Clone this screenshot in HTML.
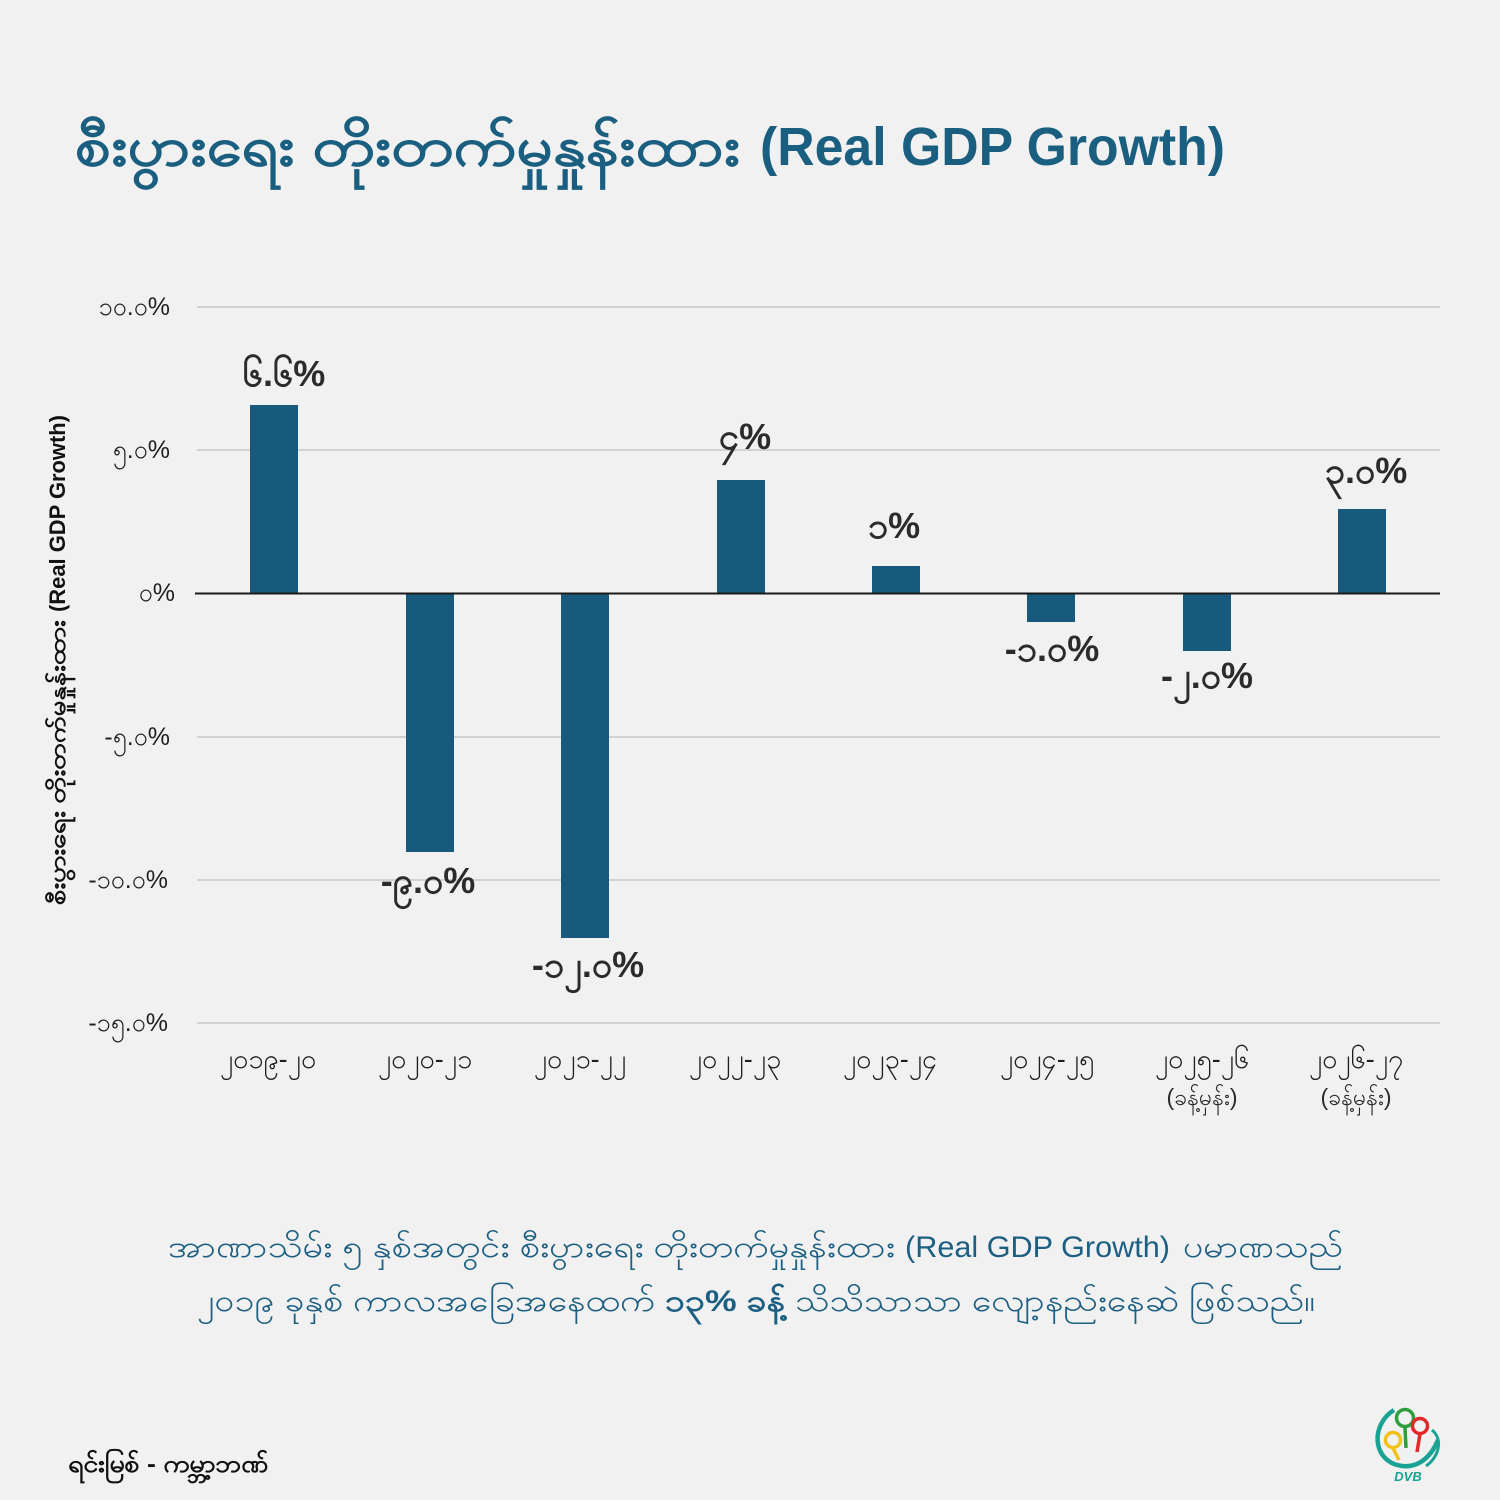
<!DOCTYPE html>
<html>
<head>
<meta charset="utf-8">
<style>
  html, body { margin:0; padding:0; background:#f1f1f1; }
  svg { display:block; }
  text { font-family: "Liberation Sans", "DejaVu Sans", sans-serif; }
</style>
</head>
<body>
<svg width="1500" height="1500" viewBox="0 0 1500 1500" xmlns="http://www.w3.org/2000/svg">
  <rect x="0" y="0" width="1500" height="1500" fill="#f1f1f1"/>

  <!-- Title -->
  <text x="75" y="165" font-size="54" font-weight="bold" fill="#1a5e80" textLength="665" lengthAdjust="spacingAndGlyphs">စီးပွားရေး တိုးတက်မှုနှုန်းထား</text>
  <text x="760" y="165" font-size="54" font-weight="bold" fill="#1a5e80" textLength="465" lengthAdjust="spacingAndGlyphs">(Real GDP Growth)</text>

  <!-- Gridlines -->
  <g stroke="#d2d2d2" stroke-width="2">
    <line x1="197" y1="307" x2="1440" y2="307"/>
    <line x1="197" y1="450" x2="1440" y2="450"/>
    <line x1="197" y1="737" x2="1440" y2="737"/>
    <line x1="197" y1="880" x2="1440" y2="880"/>
    <line x1="197" y1="1023" x2="1440" y2="1023"/>
  </g>

  <!-- Y tick labels -->
  <g font-size="25" fill="#1f1f1f" text-anchor="end">
    <text x="170" y="315">၁၀.၀%</text>
    <text x="170" y="458">၅.၀%</text>
    <text x="175" y="601">၀%</text>
    <text x="170" y="745">-၅.၀%</text>
    <text x="168" y="888">-၁၀.၀%</text>
    <text x="168" y="1031">-၁၅.၀%</text>
  </g>

  <!-- Y axis title -->
  <g transform="rotate(-90)" font-size="22" font-weight="bold" fill="#111">
    <text x="-905" y="65" textLength="285" lengthAdjust="spacingAndGlyphs">စီးပွားရေး တိုးတက်မှုနှုန်းထား</text>
    <text x="-612" y="65" textLength="197" lengthAdjust="spacingAndGlyphs">(Real GDP Growth)</text>
  </g>

  <!-- Bars -->
  <g fill="#175a7b">
    <rect x="250" y="405" width="48" height="188"/>
    <rect x="406" y="594" width="48" height="258"/>
    <rect x="561" y="594" width="48" height="344"/>
    <rect x="717" y="480" width="48" height="113"/>
    <rect x="872" y="566" width="48" height="27"/>
    <rect x="1027" y="594" width="48" height="28"/>
    <rect x="1183" y="594" width="48" height="57"/>
    <rect x="1338" y="509" width="48" height="84"/>
  </g>

  <!-- Zero line -->
  <line x1="195" y1="593.5" x2="1440" y2="593.5" stroke="#1a1a1a" stroke-width="2"/>

  <!-- Value labels -->
  <g font-size="36" font-weight="bold" fill="#2b2b2b" text-anchor="middle">
    <text x="284" y="386">၆.၆%</text>
    <text x="428" y="893">-၉.၀%</text>
    <text x="588" y="977">-၁၂.၀%</text>
    <text x="745" y="449">၄%</text>
    <text x="894" y="538">၁%</text>
    <text x="1052" y="661">-၁.၀%</text>
    <text x="1207" y="688">-၂.၀%</text>
    <text x="1366" y="483">၃.၀%</text>
  </g>

  <!-- X labels -->
  <g font-size="27" fill="#1f1f1f" text-anchor="middle">
    <text x="268" y="1068">၂၀၁၉-၂၀</text>
    <text x="425" y="1068">၂၀၂၀-၂၁</text>
    <text x="580" y="1068">၂၀၂၁-၂၂</text>
    <text x="735" y="1068">၂၀၂၂-၂၃</text>
    <text x="890" y="1068">၂၀၂၃-၂၄</text>
    <text x="1047" y="1068">၂၀၂၄-၂၅</text>
    <text x="1202" y="1068">၂၀၂၅-၂၆</text>
    <text x="1356" y="1068">၂၀၂၆-၂၇</text>
  </g>
  <g font-size="23" fill="#2b2b2b" text-anchor="middle">
    <text x="1202" y="1105">(ခန့်မှန်း)</text>
    <text x="1356" y="1105">(ခန့်မှန်း)</text>
  </g>

  <!-- Bottom description -->
  <g font-size="30" fill="#1d5f82">
    <text x="168" y="1257" textLength="727" lengthAdjust="spacingAndGlyphs">အာဏာသိမ်း ၅ နှစ်အတွင်း စီးပွားရေး တိုးတက်မှုနှုန်းထား</text>
    <text x="905" y="1257" textLength="265" lengthAdjust="spacingAndGlyphs">(Real GDP Growth)</text>
    <text x="1183" y="1257" textLength="160" lengthAdjust="spacingAndGlyphs">ပမာဏသည်</text>
    <text x="197" y="1311" textLength="458" lengthAdjust="spacingAndGlyphs">၂၀၁၉ ခုနှစ် ကာလအခြေအနေထက်</text>
    <text x="665" y="1311" font-weight="bold" textLength="120" lengthAdjust="spacingAndGlyphs">၁၃% ခန့်</text>
    <text x="795" y="1311" textLength="520" lengthAdjust="spacingAndGlyphs">သိသိသာသာ လျော့နည်းနေဆဲ ဖြစ်သည်။</text>
  </g>

  <!-- Source -->
  <text x="68" y="1472" font-size="24" font-weight="bold" fill="#111" textLength="200" lengthAdjust="spacingAndGlyphs">ရင်းမြစ် - ကမ္ဘာ့ဘဏ်</text>

  <!-- DVB logo -->
  <g>
    <path d="M1394 1410 C1370 1425 1372 1462 1402 1466 C1420 1468 1432 1455 1438 1440" fill="none" stroke="#1aa394" stroke-width="4.5"/>
    <path d="M1432 1430 C1444 1440 1438 1458 1426 1466" fill="none" stroke="#1aa394" stroke-width="3"/>
    <circle cx="1393" cy="1440" r="7.5" fill="none" stroke="#f2c21b" stroke-width="3.5"/>
    <path d="M1393 1448 L1399 1460" stroke="#f2c21b" stroke-width="3.5"/>
    <circle cx="1405" cy="1418" r="8.5" fill="none" stroke="#2e9e3e" stroke-width="3.5"/>
    <path d="M1405 1427 L1406 1448" stroke="#2e9e3e" stroke-width="3.5"/>
    <circle cx="1420" cy="1426" r="7.5" fill="none" stroke="#e02a2a" stroke-width="3.5"/>
    <path d="M1420 1434 L1417 1452" stroke="#e02a2a" stroke-width="3.5"/>
    <text x="1408" y="1481" font-size="13" font-weight="bold" font-style="italic" fill="#1aa394" text-anchor="middle">DVB</text>
  </g>
</svg>
</body>
</html>
